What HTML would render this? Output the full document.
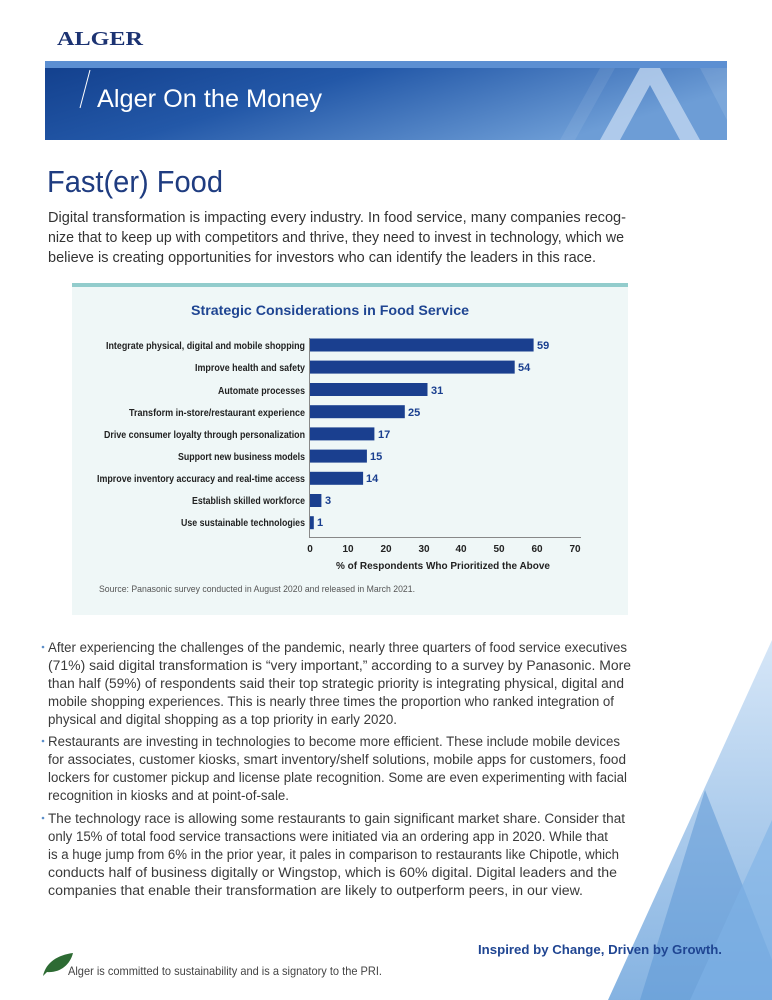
<!DOCTYPE html>
<html><head><meta charset="utf-8"><style>html,body{margin:0;padding:0;background:#fff}svg{display:block}</style></head>
<body>
<svg width="772" height="1000" viewBox="0 0 772 1000" xmlns="http://www.w3.org/2000/svg" font-family="Liberation Sans, sans-serif">
<defs>
<linearGradient id="ban" x1="0" y1="0" x2="1" y2="0.4">
<stop offset="0" stop-color="#123f8c"/><stop offset="0.45" stop-color="#2358a8"/><stop offset="1" stop-color="#6d9dd6"/></linearGradient>
<linearGradient id="tri" x1="0" y1="0" x2="0" y2="1">
<stop offset="0" stop-color="#cfe2f6"/><stop offset="1" stop-color="#6fa5dc"/></linearGradient>
</defs>
<!-- decorative triangles -->
<polygon points="772,640 772,1000 608,1000" fill="url(#tri)" opacity="0.85"/>
<polygon points="705,790 772,960 772,1000 640,1000" fill="#5d97d6" opacity="0.55"/>
<polygon points="772,820 772,1000 690,1000" fill="#7fb2e6" opacity="0.6"/>
<!-- logo -->
<text x="57" y="45" font-family="Liberation Serif, serif" font-weight="bold" font-size="20" fill="#1c3372" textLength="86" lengthAdjust="spacingAndGlyphs">ALGER</text>
<!-- banner -->
<rect x="45" y="61" width="682" height="79" fill="url(#ban)"/>
<rect x="45" y="61" width="682" height="7" fill="#5c8fd2"/>
<polygon points="600,140 640,68 660,68 700,140 680,140 650,85 620,140" fill="#c6daf1" opacity="0.75"/>
<polygon points="560,140 600,68 615,68 575,140" fill="#ffffff" opacity="0.08"/>
<polygon points="700,68 727,68 727,120" fill="#ffffff" opacity="0.1"/>
<line x1="80" y1="108" x2="90" y2="70" stroke="#fff" stroke-width="1"/>
<text x="97" y="107" font-size="25" fill="#fff" textLength="225" lengthAdjust="spacingAndGlyphs">Alger On the Money</text>
<!-- title -->
<text x="47" y="192" font-size="31" fill="#1f3c80" textLength="176" lengthAdjust="spacingAndGlyphs">Fast(er) Food</text>
<g font-size="14.5" fill="#333">
<text x="48" y="222" textLength="578" lengthAdjust="spacingAndGlyphs">Digital transformation is impacting every industry. In food service, many companies recog-</text>
<text x="48" y="242" textLength="576" lengthAdjust="spacingAndGlyphs">nize that to keep up with competitors and thrive, they need to invest in technology, which we</text>
<text x="48" y="262" textLength="548" lengthAdjust="spacingAndGlyphs">believe is creating opportunities for investors who can identify the leaders in this race.</text>
</g>
<!-- chart panel -->
<rect x="72" y="283" width="556" height="332" fill="#eff7f7"/>
<rect x="72" y="283" width="556" height="4" fill="#92cccc"/>
<text x="330" y="315" text-anchor="middle" font-size="14" font-weight="bold" fill="#1f4592" textLength="278" lengthAdjust="spacingAndGlyphs">Strategic Considerations in Food Service</text>
<g font-size="10" font-weight="bold" fill="#222" text-anchor="end">
<text x="305" y="349" textLength="199" lengthAdjust="spacingAndGlyphs">Integrate physical, digital and mobile shopping</text>
<text x="305" y="371" textLength="110" lengthAdjust="spacingAndGlyphs">Improve health and safety</text>
<text x="305" y="394" textLength="87" lengthAdjust="spacingAndGlyphs">Automate processes</text>
<text x="305" y="416" textLength="176" lengthAdjust="spacingAndGlyphs">Transform in-store/restaurant experience</text>
<text x="305" y="438" textLength="201" lengthAdjust="spacingAndGlyphs">Drive consumer loyalty through personalization</text>
<text x="305" y="460" textLength="127" lengthAdjust="spacingAndGlyphs">Support new business models</text>
<text x="305" y="482" textLength="208" lengthAdjust="spacingAndGlyphs">Improve inventory accuracy and real-time access</text>
<text x="305" y="504" textLength="113" lengthAdjust="spacingAndGlyphs">Establish skilled workforce</text>
<text x="305" y="526" textLength="124" lengthAdjust="spacingAndGlyphs">Use sustainable technologies</text>
</g>
<g fill="#1a3f8f">
<rect x="310" y="338.5" width="223.6" height="13"/>
<rect x="310" y="360.6" width="204.7" height="13"/>
<rect x="310" y="383" width="117.5" height="13"/>
<rect x="310" y="405.2" width="94.8" height="13"/>
<rect x="310" y="427.4" width="64.4" height="13"/>
<rect x="310" y="449.6" width="56.9" height="13"/>
<rect x="310" y="471.8" width="53.1" height="13"/>
<rect x="310" y="494" width="11.4" height="13"/>
<rect x="310" y="516.2" width="3.8" height="13"/>
</g>
<g font-size="11" font-weight="bold" fill="#1a3f8f">
<text x="537" y="349">59</text><text x="518" y="371">54</text><text x="431" y="394">31</text>
<text x="408" y="416">25</text><text x="378" y="438">17</text><text x="370" y="460">15</text>
<text x="366" y="482">14</text><text x="325" y="504">3</text><text x="317" y="526">1</text>
</g>
<line x1="309.5" y1="338" x2="309.5" y2="537" stroke="#888" stroke-width="1"/>
<line x1="309" y1="537.5" x2="581" y2="537.5" stroke="#888" stroke-width="1"/>
<g font-size="10" font-weight="bold" fill="#222" text-anchor="middle">
<text x="310" y="552">0</text><text x="348" y="552">10</text><text x="386" y="552">20</text><text x="424" y="552">30</text>
<text x="461" y="552">40</text><text x="499" y="552">50</text><text x="537" y="552">60</text><text x="575" y="552">70</text>
</g>
<text x="336" y="569" font-size="10.5" font-weight="bold" fill="#222" textLength="214" lengthAdjust="spacingAndGlyphs">% of Respondents Who Prioritized the Above</text>
<text x="99" y="592" font-size="9.5" fill="#555" textLength="316" lengthAdjust="spacingAndGlyphs">Source: Panasonic survey conducted in August 2020 and released in March 2021.</text>
<!-- bullets -->
<g font-size="13.5" fill="#3a3a3a">
<circle cx="43" cy="647" r="1.3" fill="#5d8fc9"/>
<text x="48" y="652" textLength="579" lengthAdjust="spacingAndGlyphs">After experiencing the challenges of the pandemic, nearly three quarters of food service executives</text>
<text x="48" y="670" textLength="583" lengthAdjust="spacingAndGlyphs">(71%) said digital transformation is “very important,” according to a survey by Panasonic. More</text>
<text x="48" y="688" textLength="576" lengthAdjust="spacingAndGlyphs">than half (59%) of respondents said their top strategic priority is integrating physical, digital and</text>
<text x="48" y="706" textLength="566" lengthAdjust="spacingAndGlyphs">mobile shopping experiences. This is nearly three times the proportion who ranked integration of</text>
<text x="48" y="724" textLength="349" lengthAdjust="spacingAndGlyphs">physical and digital shopping as a top priority in early 2020.</text>
<circle cx="43" cy="741" r="1.3" fill="#5d8fc9"/>
<text x="48" y="746" textLength="572" lengthAdjust="spacingAndGlyphs">Restaurants are investing in technologies to become more efficient. These include mobile devices</text>
<text x="48" y="764" textLength="578" lengthAdjust="spacingAndGlyphs">for associates, customer kiosks, smart inventory/shelf solutions, mobile apps for customers, food</text>
<text x="48" y="782" textLength="579" lengthAdjust="spacingAndGlyphs">lockers for customer pickup and license plate recognition. Some are even experimenting with facial</text>
<text x="48" y="800" textLength="241" lengthAdjust="spacingAndGlyphs">recognition in kiosks and at point-of-sale.</text>
<circle cx="43" cy="818" r="1.3" fill="#5d8fc9"/>
<text x="48" y="823" textLength="577" lengthAdjust="spacingAndGlyphs">The technology race is allowing some restaurants to gain significant market share. Consider that</text>
<text x="48" y="841" textLength="560" lengthAdjust="spacingAndGlyphs">only 15% of total food service transactions were initiated via an ordering app in 2020. While that</text>
<text x="48" y="859" textLength="571" lengthAdjust="spacingAndGlyphs">is a huge jump from 6% in the prior year, it pales in comparison to restaurants like Chipotle, which</text>
<text x="48" y="877" textLength="569" lengthAdjust="spacingAndGlyphs">conducts half of business digitally or Wingstop, which is 60% digital. Digital leaders and the</text>
<text x="48" y="895" textLength="535" lengthAdjust="spacingAndGlyphs">companies that enable their transformation are likely to outperform peers, in our view.</text>
</g>
<!-- footer -->
<text x="478" y="954" font-size="13" font-weight="bold" fill="#1f4592" textLength="244" lengthAdjust="spacingAndGlyphs">Inspired by Change, Driven by Growth.</text>
<path d="M43,976 C46,962 58,955 73,953 C70,965 60,973 47,972 Z" fill="#2d6b33"/>
<text x="68" y="975" font-size="12" fill="#444" textLength="314" lengthAdjust="spacingAndGlyphs">Alger is committed to sustainability and is a signatory to the PRI.</text>
</svg>
</body></html>
